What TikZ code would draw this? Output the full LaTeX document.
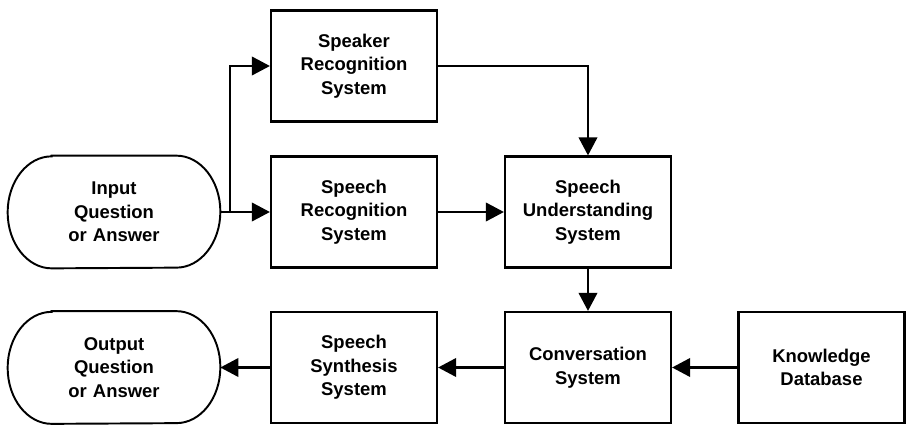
\documentclass[tikz,border=0pt]{standalone}
\usepackage{fontspec}
\setsansfont{Liberation Sans}
\usepackage{tikz}
\usetikzlibrary{shapes,arrows.meta,positioning}
\tikzstyle{box}=[rectangle, draw, line width=1.25pt, minimum width=3.32cm, minimum height=2.22cm, text width=3cm, text centered, font={\sffamily\bfseries\fontsize{10.5}{13.4}\selectfont}]
\tikzstyle{term}=[rectangle, minimum width=4.24cm, minimum height=2.24cm, text width=3.5cm, text centered, font={\sffamily\bfseries\fontsize{10.5}{13.4}\selectfont}]
\tikzstyle{conn}=[line width=1.25pt, -{Triangle[length=0.36cm,width=0.37cm]}]

\begin{document}
\begin{tikzpicture}
\useasboundingbox (0,0) rectangle (18.12,8.48);

%Row One
\node[box] (spk) at (7.08,7.16){Speaker\\Recognition\\System};
%Row Two
\node[term] (inp) at (2.28,4.24){Input\\Question\\or Answer};
\node[box] (rec) at (7.08,4.24){Speech\\Recognition\\System};
\node[box] (und) at (11.76,4.24){Speech\\Understanding\\System};
%Row Three
\node[term] (outp) at (2.28,1.13){Output\\Question\\or Answer};
\node[box] (syn) at (7.08,1.13){Speech\\Synthesis\\System};
\node[box] (conv) at (11.76,1.13){Conversation\\System};
\node[box] (kdb) at (16.43,1.13){Knowledge\\Database};

%terminal outlines
\foreach \t in {inp,outp}
  \draw[line width=1.1pt] ([xshift=0.88cm]\t.north west) -- ([xshift=-0.88cm]\t.north east)
    arc[start angle=90, end angle=-90, x radius=0.88cm, y radius=1.12cm]
    -- ([xshift=0.88cm]\t.south west)
    arc[start angle=270, end angle=90, x radius=0.88cm, y radius=1.12cm] -- cycle;

%connections
\coordinate (split) at ([xshift=0.2cm]inp.east);
\draw[conn] (inp.east) -- (rec.west);
\draw[conn] (split) |- (spk.west);
\draw[conn] (spk.east) -| (und.north);
\draw[conn] (rec.east) -- (und.west);
\draw[conn] (und.south) -- (conv.north);
\draw[conn] (kdb.west) -- (conv.east);
\draw[conn] (conv.west) -- (syn.east);
\draw[conn] (syn.west) -- (outp.east);

\end{tikzpicture}
\end{document}
